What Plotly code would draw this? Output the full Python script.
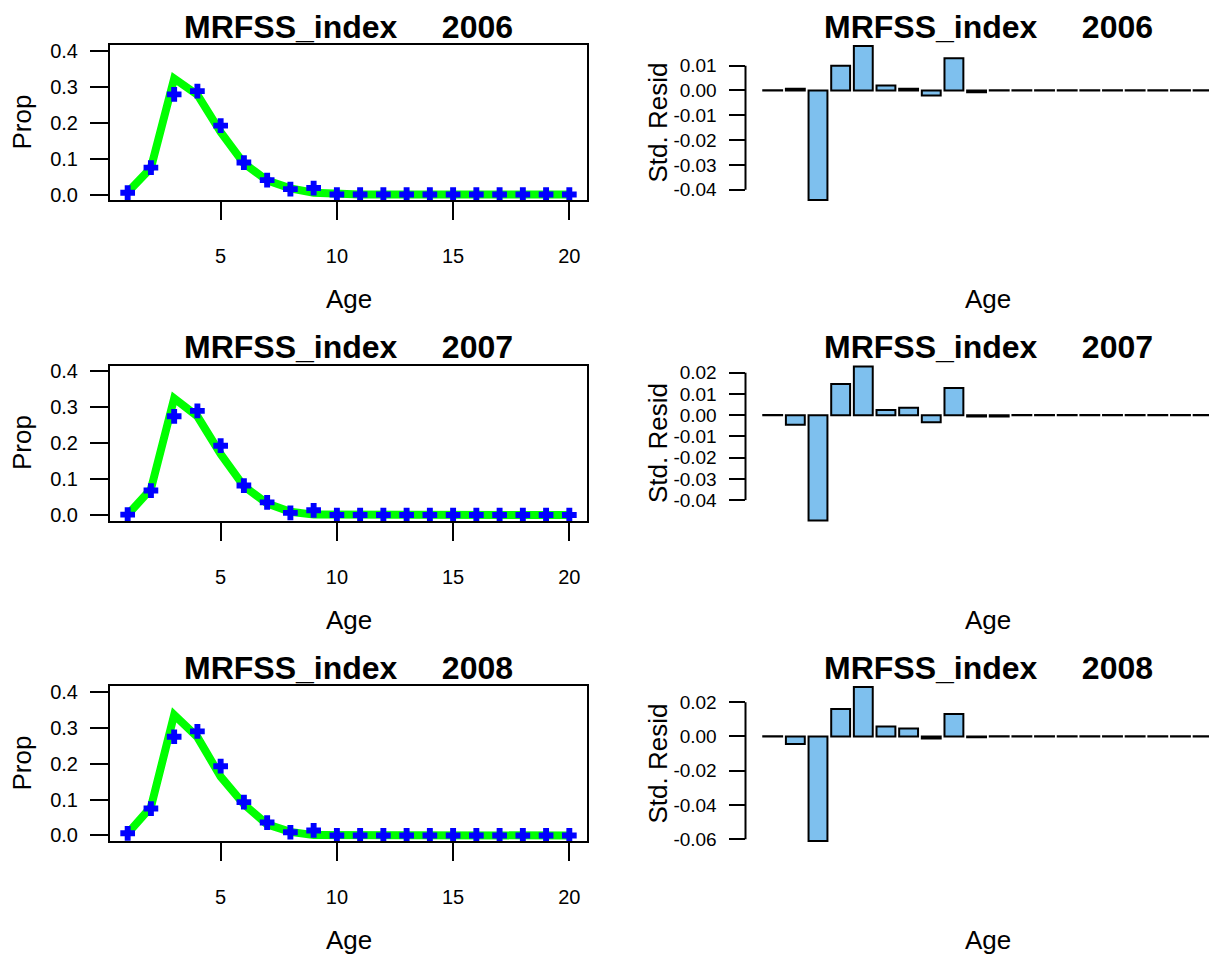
import plotly.graph_objects as go

# ---- data -------------------------------------------------------------
ages = list(range(1, 21))
fleet = "MRFSS_index"
years = ["2006", "2007", "2008"]

obs_2006 = [0.005, 0.075, 0.279, 0.288, 0.192, 0.089, 0.040, 0.015, 0.018, 0.0,
            0.0, 0.0, 0.0, 0.0, 0.0, 0.0, 0.0, 0.0, 0.0, 0.0]
exp_2006 = [0.006, 0.074, 0.323, 0.278, 0.174, 0.087, 0.039, 0.017, 0.005, 0.001,
            0.0, 0.0, 0.0, 0.0, 0.0, 0.0, 0.0, 0.0, 0.0, 0.0]
resid_2006 = [0.0001, 0.0007, -0.0441, 0.0100, 0.0179, 0.0020, 0.0007, -0.0020, 0.0130, -0.0007,
              0.0001, 0.0001, 0.0001, 0.0001, 0.0001, 0.0001, 0.0001, 0.0001, 0.0001, 0.0001]

obs_2007 = [0.001, 0.068, 0.275, 0.290, 0.193, 0.082, 0.035, 0.006, 0.013, 0.0,
            0.0, 0.0, 0.0, 0.0, 0.0, 0.0, 0.0, 0.0, 0.0, 0.0]
exp_2007 = [0.001, 0.072, 0.325, 0.275, 0.170, 0.080, 0.032, 0.009, 0.001, 0.001,
            0.001, 0.0, 0.0, 0.0, 0.0, 0.0, 0.0, 0.0, 0.0, 0.0]
resid_2007 = [0.0001, -0.0045, -0.0496, 0.0147, 0.0229, 0.0024, 0.0035, -0.0034, 0.0128, -0.0006,
              -0.0006, 0.0001, 0.0001, 0.0001, 0.0001, 0.0001, 0.0001, 0.0001, 0.0001, 0.0001]

obs_2008 = [0.006, 0.075, 0.275, 0.290, 0.193, 0.093, 0.036, 0.009, 0.014, 0.0,
            0.0, 0.0, 0.0, 0.0, 0.0, 0.0, 0.0, 0.0, 0.0, 0.0]
exp_2008 = [0.006, 0.079, 0.336, 0.274, 0.164, 0.087, 0.031, 0.010, 0.001, 0.0005,
            0.0, 0.0, 0.0, 0.0, 0.0, 0.0, 0.0, 0.0, 0.0, 0.0]
resid_2008 = [0.0001, -0.0044, -0.0610, 0.0161, 0.0289, 0.0058, 0.0046, -0.0012, 0.0132, -0.0005,
              0.0001, 0.0001, 0.0001, 0.0001, 0.0001, 0.0001, 0.0001, 0.0001, 0.0001, 0.0001]

obs_by_year = [obs_2006, obs_2007, obs_2008]
exp_by_year = [exp_2006, exp_2007, exp_2008]
resid_by_year = [resid_2006, resid_2007, resid_2008]

age_ticks = [5, 10, 15, 20]
prop_ticks = [0.0, 0.1, 0.2, 0.3, 0.4]
prop_tick_text = ["0.0", "0.1", "0.2", "0.3", "0.4"]
resid_ticks = [
    [0.01, 0.0, -0.01, -0.02, -0.03, -0.04],
    [0.02, 0.01, 0.0, -0.01, -0.02, -0.03, -0.04],
    [0.02, 0.0, -0.02, -0.04, -0.06],
]
resid_tick_text = [
    ["0.01", "0.00", "-0.01", "-0.02", "-0.03", "-0.04"],
    ["0.02", "0.01", "0.00", "-0.01", "-0.02", "-0.03", "-0.04"],
    ["0.02", "0.00", "-0.02", "-0.04", "-0.06"],
]

# ---- page geometry (pixels) ------------------------------------------
W, H = 1209, 968
ROW = 324.5
FONT = "Liberation Sans, Arial, sans-serif"


def px(x):
    return x / W


def py(y):
    return 1 - y / H


LEFT_X0, LEFT_X1 = 110, 587
LEFT_Y0, LEFT_Y1 = 40.7, 197.7
RIGHT_X0 = 745.5
RIGHT_Y0, RIGHT_Y1 = 40.0, 199.0
LEFT_CX, RIGHT_CX = 348.5, 988

fig = go.Figure()
layout = dict(
    width=W, height=H,
    margin=dict(l=0, r=0, t=0, b=0),
    paper_bgcolor="white", plot_bgcolor="white",
    showlegend=False,
    bargap=1 / 6,
    font=dict(family=FONT, color="black"),
    annotations=[], shapes=[],
)

for r, year in enumerate(years):
    off = r * ROW
    lx, ly = f"x{2 * r + 1}", f"y{2 * r + 1}"
    rx, ry = f"x{2 * r + 2}", f"y{2 * r + 2}"
    lxk, lyk = f"xaxis{2 * r + 1}", f"yaxis{2 * r + 1}"
    rxk, ryk = f"xaxis{2 * r + 2}", f"yaxis{2 * r + 2}"

    # left: expected (line) and observed (crosses) proportions
    fig.add_trace(go.Scatter(
        x=ages, y=exp_by_year[r], mode="lines",
        line=dict(color="#00FF00", width=8),
        xaxis=lx, yaxis=ly, hoverinfo="skip"))
    fig.add_trace(go.Scatter(
        x=ages, y=obs_by_year[r], mode="markers",
        marker=dict(symbol="cross", size=11, color="#0000FF",
                    line=dict(color="#0000FF", width=1.5)),
        xaxis=lx, yaxis=ly, cliponaxis=False))

    layout[lxk] = dict(
        domain=[px(LEFT_X0), px(LEFT_X1)], anchor=ly,
        range=[0.24, 20.76], tickvals=age_ticks,
        ticks="outside", ticklen=18, tickwidth=2, tickcolor="black",
        showline=True, mirror=True, linewidth=2, linecolor="black",
        showgrid=False, zeroline=False,
        tickfont=dict(size=20), ticklabelstandoff=19)
    layout[lyk] = dict(
        domain=[py(LEFT_Y1 + off), py(LEFT_Y0 + off)], anchor=lx,
        range=[-0.016, 0.416], tickvals=prop_ticks, ticktext=prop_tick_text,
        ticks="outside", ticklen=18, tickwidth=2, tickcolor="black",
        showline=True, mirror=True, linewidth=2, linecolor="black",
        showgrid=False, zeroline=False,
        tickfont=dict(size=20), ticklabelstandoff=8)

    # right: residual bars
    res = resid_by_year[r]
    span = max(res) - min(res)
    fig.add_trace(go.Bar(
        x=ages, y=res,
        marker=dict(color="#7EC0EE", line=dict(color="black", width=2)),
        xaxis=rx, yaxis=ry))
    layout[rxk] = dict(
        domain=[px(RIGHT_X0), 1.0], anchor=ry,
        range=[-0.2, 20.26], visible=False)
    layout[ryk] = dict(
        domain=[py(RIGHT_Y1 + off), py(RIGHT_Y0 + off)], anchor=rx,
        range=[min(res) - 0.01 * span, max(res) + 0.01 * span],
        tickvals=resid_ticks[r], ticktext=resid_tick_text[r],
        ticks="outside", ticklen=16, tickwidth=2, tickcolor="black",
        showline=False, showgrid=False, zeroline=False,
        tickfont=dict(size=19), ticklabelstandoff=8)
    layout["shapes"].append(dict(
        type="line", xref="paper", yref=ry,
        x0=px(RIGHT_X0), x1=px(RIGHT_X0),
        y0=min(resid_ticks[r]), y1=max(resid_ticks[r]),
        line=dict(color="black", width=2)))

    # titles and axis labels
    title = f"<b>{fleet}     {year}</b>"
    for cx in (LEFT_CX, RIGHT_CX):
        layout["annotations"].append(dict(
            text=title, xref="paper", yref="paper",
            x=px(cx), y=py(22 + off), xanchor="center", yanchor="middle",
            showarrow=False, font=dict(size=32)))
        layout["annotations"].append(dict(
            text="Age", xref="paper", yref="paper",
            x=px(cx), y=py(298 + off), xanchor="center", yanchor="middle",
            showarrow=False, font=dict(size=26)))
    layout["annotations"].append(dict(
        text="Prop", xref="paper", yref="paper", textangle=-90,
        x=px(22), y=py(119 + off), xanchor="center", yanchor="middle",
        showarrow=False, font=dict(size=26)))
    layout["annotations"].append(dict(
        text="Std. Resid", xref="paper", yref="paper", textangle=-90,
        x=px(658), y=py(119 + off), xanchor="center", yanchor="middle",
        showarrow=False, font=dict(size=26)))

fig.update_layout(**layout)
fig.write_html("out.html")
